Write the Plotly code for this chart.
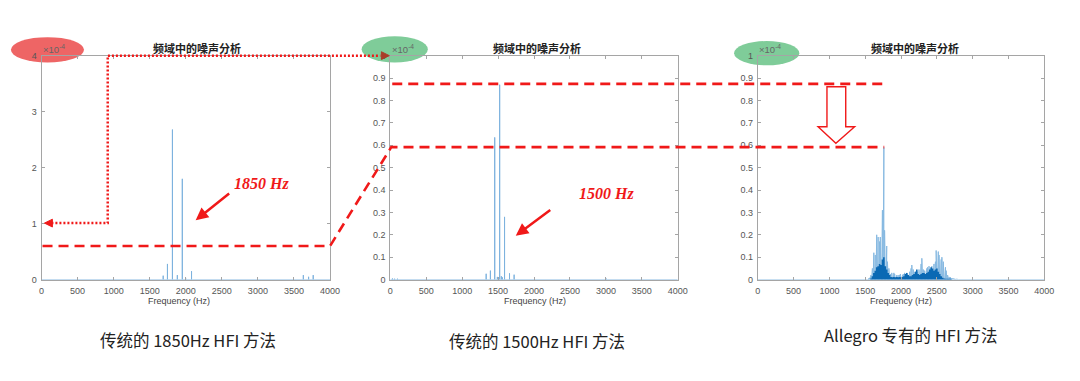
import plotly.graph_objects as go

# ---------------- data ----------------
# Panel 1: traditional 1850 Hz HFI (amplitude in 1e-4)
p1_freq = [1687, 1746, 1815, 1883, 1952, 1998, 2080, 3630, 3703, 3767]
p1_amp = [0.07, 0.28, 2.68, 0.08, 1.80, 0.03, 0.15, 0.08, 0.05, 0.08]

# Panel 2: traditional 1500 Hz HFI (amplitude in 1e-4)
p2_freq = [30, 60, 100, 1334, 1393, 1453, 1490, 1522, 1545, 1560, 1590, 1659, 1723, 3000]
p2_amp = [0.005, 0.004, 0.004, 0.026, 0.04, 0.635, 0.012, 0.87, 0.015, 0.01, 0.28, 0.028, 0.022, 0.006]

# Panel 3: Allegro proprietary HFI, spread spectrum (amplitude in 1e-4)
p3_env_freq = list(range(1540, 2810, 10))
p3_env_amp = [
    0.003, 0.005, 0.008, 0.012, 0.02, 0.03, 0.05, 0.09, 0.12, 0.07,
    0.11, 0.18, 0.20, 0.15, 0.19, 0.12, 0.17, 0.19, 0.13, 0.24,
    0.31, 0.30, 0.59, 0.22, 0.16, 0.12, 0.15, 0.08, 0.07, 0.05,
    0.03, 0.025, 0.02, 0.03, 0.025, 0.02, 0.03, 0.025, 0.02, 0.015,
    0.02, 0.015, 0.02, 0.015, 0.02, 0.025, 0.02, 0.015, 0.02, 0.025,
    0.02, 0.03, 0.025, 0.02, 0.03, 0.025, 0.02, 0.03, 0.035, 0.04,
    0.05, 0.065, 0.06, 0.045, 0.04, 0.03, 0.035, 0.025, 0.03, 0.035,
    0.03, 0.045, 0.04, 0.05, 0.07, 0.095, 0.06, 0.045, 0.035, 0.04,
    0.03, 0.045, 0.05, 0.055, 0.05, 0.06, 0.055, 0.045, 0.05, 0.06,
    0.055, 0.065, 0.07, 0.06, 0.08, 0.13, 0.12, 0.09, 0.125, 0.11,
    0.08, 0.07, 0.09, 0.10, 0.095, 0.08, 0.06, 0.05, 0.055, 0.04,
    0.03, 0.02, 0.015, 0.012, 0.01, 0.01, 0.008, 0.007, 0.006, 0.005,
    0.005, 0.004, 0.004, 0.003, 0.003, 0.002, 0.002,
]
p3_core_freq = list(range(1580, 2720, 20))
p3_core_amp = [
    0.005, 0.015, 0.03, 0.04, 0.055, 0.06, 0.07, 0.065, 0.09, 0.10,
    0.06, 0.045, 0.03, 0.02, 0.012, 0.01, 0.012, 0.01, 0.012, 0.01,
    0.012, 0.01, 0.012, 0.015, 0.025, 0.03, 0.02, 0.015, 0.015, 0.02,
    0.025, 0.035, 0.045, 0.025, 0.02, 0.025, 0.03, 0.03, 0.025, 0.03,
    0.035, 0.045, 0.055, 0.05, 0.04, 0.045, 0.05, 0.035, 0.025, 0.015,
    0.008, 0.005, 0.003, 0.002, 0.002, 0.001, 0.001,
]

x_ticks = [0, 500, 1000, 1500, 2000, 2500, 3000, 3500, 4000]
titles = ["频域中的噪声分析", "频域中的噪声分析", "频域中的噪声分析"]
captions = ["传统的 1850Hz HFI 方法", "传统的 1500Hz HFI 方法", "Allegro 专有的 HFI 方法"]
freq_labels = ["1850 Hz", "1500 Hz"]
x_title = "Frequency (Hz)"
F_MAX = 4000

# ---------------- helpers ----------------
W, H = 1080, 381


def px(x):
    return x / W


def py(y):
    return 1 - y / H


def stems(freqs, amps, with_ends=True):
    xs, ys = [], []
    if with_ends:
        xs.append(0)
        ys.append(0)
    for f, a in sorted(zip(freqs, amps)):
        xs += [f, f, f]
        ys += [0, a, 0]
    if with_ends:
        xs.append(F_MAX)
        ys.append(0)
    return xs, ys


fig = go.Figure()

light = "rgb(125,178,222)"
x1, y1 = stems(p1_freq, p1_amp)
fig.add_trace(go.Scatter(x=x1, y=y1, mode="lines", line=dict(color=light, width=1),
                         xaxis="x", yaxis="y", hoverinfo="skip"))
x2, y2 = stems(p2_freq, p2_amp)
fig.add_trace(go.Scatter(x=x2, y=y2, mode="lines", line=dict(color=light, width=1),
                         xaxis="x2", yaxis="y2", hoverinfo="skip"))
x3, y3 = stems(p3_env_freq, p3_env_amp)
fig.add_trace(go.Scatter(x=x3, y=y3, mode="lines", line=dict(color="rgb(135,185,225)", width=1),
                         xaxis="x3", yaxis="y3", hoverinfo="skip"))
x4, y4 = stems(p3_core_freq, p3_core_amp, with_ends=False)
fig.add_trace(go.Scatter(x=x4, y=y4, mode="lines", line=dict(color="rgb(10,105,180)", width=1.6),
                         xaxis="x3", yaxis="y3", hoverinfo="skip"))

# ---------------- axes ----------------
y_dom = [py(282), py(52)]
x_doms = [[px(39), px(331)], [px(392), px(683)], [px(764), px(1054)]]
axis_common = dict(showline=True, linecolor="rgb(165,165,165)", linewidth=1, mirror="ticks",
                   ticks="inside", ticklen=3, tickcolor="rgb(165,165,165)", showgrid=False,
                   zeroline=False, tickfont=dict(family="Liberation Sans", size=9, color="#555"))
layout_axes = {}
for i, dom in enumerate(x_doms):
    sfx = "" if i == 0 else str(i + 1)
    layout_axes["xaxis" + sfx] = dict(domain=dom, anchor="y" + sfx, range=[0, F_MAX],
                                      tickvals=x_ticks, ticklabelstandoff=3, **axis_common)
    if i == 0:
        yr = dict(range=[0, 4], tickvals=[0, 1, 2, 3, 4])
    else:
        yr = dict(range=[0, 1], tickvals=[0, 0.1, 0.2, 0.3, 0.4, 0.5, 0.6, 0.7, 0.8, 0.9, 1],
                  ticktext=["0", "0.1", "0.2", "0.3", "0.4", "0.5", "0.6", "0.7", "0.8", "0.9", "1"])
    layout_axes["yaxis" + sfx] = dict(domain=y_dom, anchor="x" + sfx, ticklabelstandoff=2,
                                      **yr, **axis_common)

fig.update_layout(width=W, height=H, margin=dict(l=0, r=0, t=0, b=0),
                  paper_bgcolor="white", plot_bgcolor="white", showlegend=False, **layout_axes)

# ---------------- shapes ----------------
RED = "rgb(240,25,25)"
shapes = []
# highlight ellipses
for (ex0, ex1, ey0, ey1, col) in [(8, 82, 33, 59, "rgba(236,80,80,0.88)"),
                                  (363, 430, 32, 59, "rgba(105,195,135,0.85)"),
                                  (740, 806, 37, 62, "rgba(105,195,135,0.85)")]:
    shapes.append(dict(type="circle", xref="paper", yref="paper", x0=px(ex0), x1=px(ex1),
                       y0=py(ey1), y1=py(ey0), fillcolor=col, line=dict(width=0), layer="below"))


def path(points, close=False):
    s = "M " + " L ".join(f"{px(a):.5f},{py(b):.5f}" for a, b in points)
    return s + (" Z" if close else "")


# dotted scale-change path
shapes.append(dict(type="path", xref="paper", yref="paper",
                   path=path([(49, 224), (106, 224), (106, 52), (382, 52)]),
                   line=dict(color=RED, width=2.5, dash="2px,2px")))
shapes.append(dict(type="path", xref="paper", yref="paper",
                   path=path([(42, 224), (50, 220), (50, 228)], close=True),
                   fillcolor=RED, line=dict(color=RED, width=1)))
shapes.append(dict(type="path", xref="paper", yref="paper",
                   path=path([(391, 52), (383, 48), (383, 56)], close=True),
                   fillcolor="rgb(170,60,40)", line=dict(color="rgb(170,60,40)", width=1)))
# dashed level lines
shapes.append(dict(type="path", xref="paper", yref="paper",
                   path=path([(40, 247.5), (331, 247.5), (393, 146), (892, 146)]),
                   line=dict(color=RED, width=2.6, dash="10px,6px")))
shapes.append(dict(type="path", xref="paper", yref="paper",
                   path=path([(394, 81), (892, 81)]),
                   line=dict(color=RED, width=2.6, dash="10px,6px")))
# hollow down arrow
shapes.append(dict(type="path", xref="paper", yref="paper",
                   path=path([(834, 84), (853, 84), (853, 125), (862, 125), (843, 142),
                              (825, 125), (834, 125)], close=True),
                   fillcolor="white", line=dict(color=RED, width=1.4)))

# ---------------- annotations ----------------
ann = []


def text_ann(text, cx, cy, font, xanchor="center"):
    return dict(text=text, x=px(cx), y=py(cy), xref="paper", yref="paper", showarrow=False,
                xanchor=xanchor, yanchor="middle", font=font)


for t, cx in zip(titles, [196, 540, 923]):
    ann.append(text_ann(f"<b>{t}</b>", cx, 44,
                        dict(family="Noto Sans CJK SC", size=11, color="#222")))
for cx in [178, 538, 909]:
    ann.append(text_ann(x_title, cx, 304, dict(family="Liberation Sans", size=9, color="#444")))
for lx in [38, 392, 763]:
    ann.append(text_ann("×10<sup>-4</sup>", lx, 45,
                        dict(family="Liberation Sans", size=9.5, color="#666"), xanchor="left"))
for t, (cx, cy) in zip(freq_labels, [(262, 183), (611, 194)]):
    ann.append(text_ann(f"<b><i>{t}</i></b>", cx, cy,
                        dict(family="Liberation Serif", size=16, color=RED)))
for (hx, hy, tx, ty) in [(195, 221, 230, 193), (519, 237, 555, 210)]:
    ann.append(dict(text="", x=px(hx), y=py(hy), xref="paper", yref="paper",
                    ax=tx - hx, ay=ty - hy, showarrow=True, arrowhead=2, arrowsize=1,
                    arrowwidth=2.5, arrowcolor=RED))
for t, (cx, cy) in zip(captions, [(187, 344), (541, 345), (919, 339)]):
    ann.append(text_ann(t, cx, cy, dict(family="Noto Sans CJK SC", size=16.5, color="#222")))

fig.update_layout(shapes=shapes, annotations=ann)
fig.write_html("out.html")
